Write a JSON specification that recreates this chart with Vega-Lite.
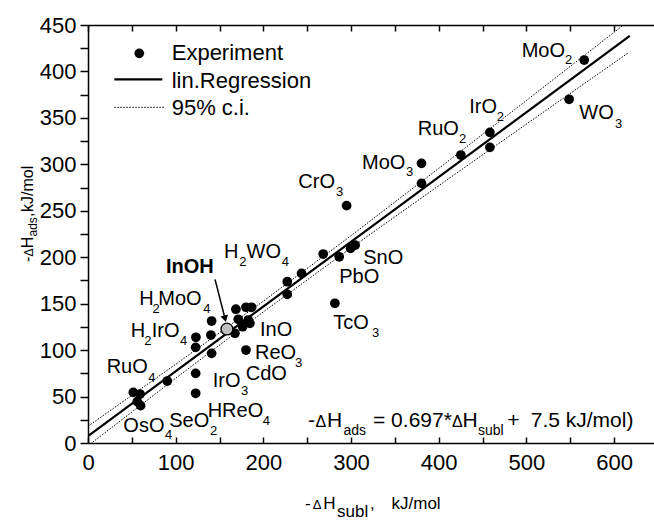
{
  "$schema": "https://vega.github.io/schema/vega-lite/v6.json",
  "width": 566,
  "height": 418,
  "autosize": {"type": "none"},
  "padding": {"left": 88, "top": 25, "right": 0, "bottom": 77},
  "config": {
    "font": "Liberation Sans",
    "view": {"stroke": null},
    "axis": {"labelFont": "Liberation Sans", "labelFontSize": 22, "labelColor": "black", "domainColor": "black", "tickColor": "black", "domainWidth": 1.5, "tickWidth": 1.5, "grid": false, "labelFlush": false, "labelOverlap": false}
  },
  "resolve": {"axis": {"x": "independent", "y": "independent"}},
  "layer": [
    {
      "data": {"values": [
        {"x": 51.7, "y": 54.5}, {"x": 59.3, "y": 52.7}, {"x": 56.2, "y": 44.5}, {"x": 60, "y": 40.2},
        {"x": 90.4, "y": 66.7}, {"x": 122.8, "y": 75}, {"x": 122.8, "y": 53.5}, {"x": 122.8, "y": 103},
        {"x": 123.1, "y": 113.8}, {"x": 141, "y": 96.5}, {"x": 140.2, "y": 116.2}, {"x": 141, "y": 131.3},
        {"x": 167.6, "y": 118.1}, {"x": 168.7, "y": 144}, {"x": 171.4, "y": 133.2}, {"x": 176.4, "y": 125.2},
        {"x": 180.2, "y": 146.1}, {"x": 186.6, "y": 146.1}, {"x": 182.8, "y": 132.4}, {"x": 184.7, "y": 128.8},
        {"x": 180.2, "y": 100.1}, {"x": 227.3, "y": 173.6}, {"x": 227.3, "y": 160}, {"x": 243.6, "y": 182.6},
        {"x": 268.3, "y": 203.4}, {"x": 286.5, "y": 200.5}, {"x": 299.5, "y": 209.5}, {"x": 304.7, "y": 213},
        {"x": 281.6, "y": 150.4}, {"x": 295, "y": 255.5}, {"x": 380.4, "y": 301}, {"x": 380.4, "y": 279.5},
        {"x": 425.3, "y": 310}, {"x": 458.4, "y": 334.4}, {"x": 458.4, "y": 318.3}, {"x": 548.8, "y": 370},
        {"x": 566, "y": 412.3},
        {"x": 58.5, "y": 419.5}
      ]},
      "mark": {"type": "point", "filled": true, "size": 95, "color": "black", "opacity": 1},
      "encoding": {
        "x": {"field": "x", "type": "quantitative", "scale": {"domain": [0, 645.6], "nice": false, "zero": false},
          "axis": {"orient": "bottom", "values": [0, 50, 100, 150, 200, 250, 300, 350, 400, 450, 500, 550, 600], "labelExpr": "datum.value % 100 === 0 ? datum.label : ''", "tickSize": -6, "labelPadding": 15, "title": null}},
        "y": {"field": "y", "type": "quantitative", "scale": {"domain": [0, 450], "nice": false, "zero": false},
          "axis": {"orient": "left", "values": [0, 25, 50, 75, 100, 125, 150, 175, 200, 225, 250, 275, 300, 325, 350, 375, 400, 425, 450], "labelExpr": "datum.value % 50 === 0 ? datum.label : ''", "tickSize": 8, "labelPadding": 4, "title": null}}
      }
    },
    {
      "data": {"values": [
        {"x": 0, "y": 18, "bound": "upper"}, {"x": 100, "y": 84.7, "bound": "upper"}, {"x": 200, "y": 152.7, "bound": "upper"},
        {"x": 300, "y": 223.2, "bound": "upper"}, {"x": 400, "y": 295.6, "bound": "upper"}, {"x": 500, "y": 368.7, "bound": "upper"},
        {"x": 600, "y": 442.1, "bound": "upper"}, {"x": 618, "y": 455.2, "bound": "upper"},
        {"x": 0, "y": -3, "bound": "lower"}, {"x": 100, "y": 69.7, "bound": "lower"}, {"x": 200, "y": 141.1, "bound": "lower"},
        {"x": 300, "y": 210, "bound": "lower"}, {"x": 400, "y": 277, "bound": "lower"}, {"x": 500, "y": 343.3, "bound": "lower"},
        {"x": 600, "y": 409.3, "bound": "lower"}, {"x": 617, "y": 420.5, "bound": "lower"}
      ]},
      "mark": {"type": "line", "strokeWidth": 1, "strokeDash": [1.5, 1.5], "color": "black", "clip": true},
      "encoding": {
        "x": {"field": "x", "type": "quantitative", "axis": null},
        "y": {"field": "y", "type": "quantitative", "axis": null},
        "detail": {"field": "bound"}
      }
    },
    {
      "data": {"values": [{"x": 0, "y": 7.5}, {"x": 618, "y": 438.2}]},
      "mark": {"type": "line", "strokeWidth": 2.2, "color": "black", "clip": true},
      "encoding": {
        "x": {"field": "x", "type": "quantitative",
          "axis": {"orient": "top", "values": [0, 50, 100, 150, 200, 250, 300, 350, 400, 450, 500, 550, 600], "labels": false, "tickSize": -6, "title": null}},
        "y": {"field": "y", "type": "quantitative", "axis": null}
      }
    },
    {
      "data": {"values": [{"item": "lin.Regression", "x": 30.0, "x2": 84.8, "y": 391.5}]},
      "mark": {"type": "rule", "strokeWidth": 2.2, "color": "black"},
      "encoding": {
        "x": {"field": "x", "type": "quantitative", "axis": null},
        "x2": {"field": "x2"},
        "y": {"field": "y", "type": "quantitative", "axis": null}
      }
    },
    {
      "data": {"values": [{"item": "95% c.i.", "x": 30.0, "x2": 87.8, "y": 361.4}]},
      "mark": {"type": "rule", "strokeWidth": 1, "strokeDash": [1.5, 1.5], "color": "black"},
      "encoding": {
        "x": {"field": "x", "type": "quantitative", "axis": null},
        "x2": {"field": "x2"},
        "y": {"field": "y", "type": "quantitative", "axis": null}
      }
    },
    {
      "data": {"values": [{"t": "Experiment", "x": 95.5, "y": 412.3}, {"t": "lin.Regression", "x": 95.5, "y": 382.5}, {"t": "95% c.i.", "x": 95.5, "y": 353.1}]},
      "mark": {"type": "text", "fontSize": 22, "align": "left", "baseline": "alphabetic", "color": "black"},
      "encoding": {
        "x": {"field": "x", "type": "quantitative", "axis": null},
        "y": {"field": "y", "type": "quantitative", "axis": null},
        "text": {"field": "t"}
      }
    },
    {
      "data": {"values": [{"x": 158.5, "y": 122.7}]},
      "mark": {"type": "point", "filled": true, "size": 140, "fill": "#c0c0c0", "stroke": "black", "strokeWidth": 1.3, "opacity": 1},
      "encoding": {
        "x": {"field": "x", "type": "quantitative", "axis": null},
        "y": {"field": "y", "type": "quantitative", "axis": null}
      }
    },
    {
      "data": {"values": [{"x": 144.9, "y": 176.2, "x2": 156.6, "y2": 133.0}]},
      "mark": {"type": "rule", "strokeWidth": 1.5, "color": "black"},
      "encoding": {
        "x": {"field": "x", "type": "quantitative", "axis": null},
        "y": {"field": "y", "type": "quantitative", "axis": null},
        "x2": {"field": "x2"},
        "y2": {"field": "y2"}
      }
    },
    {
      "data": {"values": [{"x": 156.4, "y": 133.8}]},
      "mark": {"type": "point", "shape": "triangle-down", "filled": true, "size": 60, "color": "black", "angle": 345.6, "opacity": 1},
      "encoding": {
        "x": {"field": "x", "type": "quantitative", "axis": null},
        "y": {"field": "y", "type": "quantitative", "axis": null}
      }
    },
    {
      "data": {"values": [
        {"t": "MoO", "x": 494.7, "y": 415.9}, {"t": "IrO", "x": 434.9, "y": 354.9}, {"t": "RuO", "x": 376.1, "y": 331.6}, {"t": "WO", "x": 560.4, "y": 348.5},
        {"t": "MoO", "x": 312.5, "y": 295.5}, {"t": "CrO", "x": 239.9, "y": 274.2}, {"t": "SnO", "x": 314.0, "y": 192.7}, {"t": "PbO", "x": 286.6, "y": 172.6},
        {"t": "TcO", "x": 279.8, "y": 122.4}, {"t": "H", "x": 155.1, "y": 198.8}, {"t": "WO", "x": 180.8, "y": 198.8}, {"t": "H", "x": 58.5, "y": 148.6},
        {"t": "MoO", "x": 80.2, "y": 148.6}, {"t": "H", "x": 48.7, "y": 114.4}, {"t": "IrO", "x": 72.7, "y": 114.4}, {"t": "InO", "x": 196.2, "y": 115.2},
        {"t": "ReO", "x": 190.5, "y": 90.1}, {"t": "RuO", "x": 21.3, "y": 75.0}, {"t": "CdO", "x": 179.9, "y": 67.8}, {"t": "IrO", "x": 142.2, "y": 60.0},
        {"t": "HReO", "x": 136.5, "y": 28.3}, {"t": "OsO", "x": 40.3, "y": 12.2}, {"t": "SeO", "x": 92.7, "y": 17.5}
      ]},
      "mark": {"type": "text", "fontSize": 20, "align": "left", "baseline": "alphabetic", "color": "black"},
      "encoding": {
        "x": {"field": "x", "type": "quantitative", "axis": null},
        "y": {"field": "y", "type": "quantitative", "axis": null},
        "text": {"field": "t"}
      }
    },
    {
      "data": {"values": [
        {"t": "-", "x": 250.9, "y": 16.7}, {"t": "H", "x": 272.6, "y": 16.7}, {"t": "= 0.697*", "x": 325.1, "y": 16.7},
        {"t": "H", "x": 427.2, "y": 16.7}, {"t": "+", "x": 478.2, "y": 16.7}, {"t": "7.5 kJ/mol)", "x": 505.0, "y": 16.7}
      ]},
      "mark": {"type": "text", "fontSize": 21, "align": "left", "baseline": "alphabetic", "color": "black"},
      "encoding": {
        "x": {"field": "x", "type": "quantitative", "axis": null},
        "y": {"field": "y", "type": "quantitative", "axis": null},
        "text": {"field": "t"}
      }
    },
    {
      "data": {"values": [
        {"t": "2", "x": 544.1, "y": 408.0}, {"t": "2", "x": 466.2, "y": 346.6}, {"t": "2", "x": 423.2, "y": 323.3}, {"t": "3", "x": 601.1, "y": 339.4},
        {"t": "3", "x": 362.7, "y": 287.4}, {"t": "3", "x": 282.9, "y": 266.2}, {"t": "3", "x": 323.9, "y": 113.8}, {"t": "2", "x": 172.6, "y": 190.5},
        {"t": "4", "x": 220.9, "y": 190.5}, {"t": "2", "x": 73.7, "y": 140.3}, {"t": "4", "x": 131.5, "y": 140.3}, {"t": "2", "x": 64.2, "y": 105.5},
        {"t": "4", "x": 104.9, "y": 105.5}, {"t": "3", "x": 236.1, "y": 81.5}, {"t": "4", "x": 68.8, "y": 66.0}, {"t": "3", "x": 174.5, "y": 51.7},
        {"t": "4", "x": 199.3, "y": 19.4}, {"t": "4", "x": 87.8, "y": 4.0}, {"t": "2", "x": 139.2, "y": 8.6}
      ]},
      "mark": {"type": "text", "fontSize": 13, "align": "left", "baseline": "alphabetic", "color": "black"},
      "encoding": {
        "x": {"field": "x", "type": "quantitative", "axis": null},
        "y": {"field": "y", "type": "quantitative", "axis": null},
        "text": {"field": "t"}
      }
    },
    {
      "data": {"values": [{"t": "ads", "x": 291.4, "y": 8.6}, {"t": "subl", "x": 444.8, "y": 8.6}]},
      "mark": {"type": "text", "fontSize": 14, "align": "left", "baseline": "alphabetic", "color": "black"},
      "encoding": {
        "x": {"field": "x", "type": "quantitative", "axis": null},
        "y": {"field": "y", "type": "quantitative", "axis": null},
        "text": {"field": "t"}
      }
    },
    {
      "data": {"values": [{"t": "Δ", "x": 259.5, "y": 16.7}, {"t": "Δ", "x": 415.2, "y": 16.7}]},
      "mark": {"type": "text", "fontSize": 16, "align": "left", "baseline": "alphabetic", "color": "black"},
      "encoding": {
        "x": {"field": "x", "type": "quantitative", "axis": null},
        "y": {"field": "y", "type": "quantitative", "axis": null},
        "text": {"field": "t"}
      }
    },
    {
      "data": {"values": [{"t": "InOH", "x": 89.0, "y": 182.7}]},
      "mark": {"type": "text", "fontSize": 20, "fontWeight": "bold", "align": "left", "baseline": "alphabetic", "color": "black"},
      "encoding": {
        "x": {"field": "x", "type": "quantitative", "axis": null},
        "y": {"field": "y", "type": "quantitative", "axis": null},
        "text": {"field": "t"}
      }
    },
    {
      "data": {"values": [
        {"t": "-", "x": 247.5, "y": -71.2}, {"t": "H", "x": 268.4, "y": -71.2}, {"t": "subl", "x": 284.0, "y": -80.2},
        {"t": ",", "x": 321.7, "y": -71.2}, {"t": "kJ/mol", "x": 346.2, "y": -71.2}
      ]},
      "mark": {"type": "text", "fontSize": 17, "align": "left", "baseline": "alphabetic", "color": "black"},
      "encoding": {
        "x": {"field": "x", "type": "quantitative", "axis": null},
        "y": {"field": "y", "type": "quantitative", "axis": null},
        "text": {"field": "t"}
      }
    },
    {
      "data": {"values": [{"t": "Δ", "x": 256.3, "y": -71.2}]},
      "mark": {"type": "text", "fontSize": 13, "align": "left", "baseline": "alphabetic", "color": "black"},
      "encoding": {
        "x": {"field": "x", "type": "quantitative", "axis": null},
        "y": {"field": "y", "type": "quantitative", "axis": null},
        "text": {"field": "t"}
      }
    },
    {
      "data": {"values": [
        {"t": "-", "x": -62.4, "y": 194.8}, {"t": "H", "x": -62.4, "y": 209.6},
        {"t": ",", "x": -62.4, "y": 243.3}, {"t": "kJ/mol", "x": -62.4, "y": 248.7}
      ]},
      "mark": {"type": "text", "fontSize": 16, "angle": 270, "align": "left", "baseline": "alphabetic", "color": "black"},
      "encoding": {
        "x": {"field": "x", "type": "quantitative", "axis": null},
        "y": {"field": "y", "type": "quantitative", "axis": null},
        "text": {"field": "t"}
      }
    },
    {
      "data": {"values": [{"t": "Δ", "x": -62.4, "y": 200.7}, {"t": "ads", "x": -58.2, "y": 222.3}]},
      "mark": {"type": "text", "fontSize": 12, "angle": 270, "align": "left", "baseline": "alphabetic", "color": "black"},
      "encoding": {
        "x": {"field": "x", "type": "quantitative", "axis": null},
        "y": {"field": "y", "type": "quantitative", "axis": null},
        "text": {"field": "t"}
      }
    }
  ]
}
